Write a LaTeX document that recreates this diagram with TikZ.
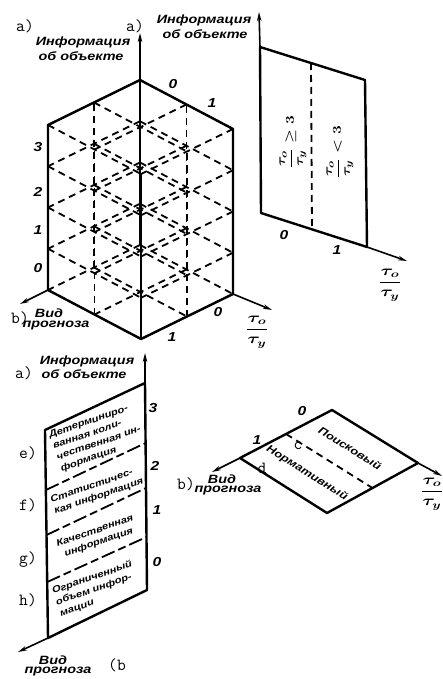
\documentclass[tikz,border=0pt]{standalone}
\usepackage{fontspec}
\newfontfamily\lab{Liberation Sans}[FakeStretch=1.2]
\usetikzlibrary{arrows.meta}
\tikzset{
  solidln/.style={line width=2.4pt, line cap=round, line join=round},
  dashln/.style={line width=1.8pt, dash pattern=on 7pt off 5pt},
  sepln/.style={line width=1.8pt, dash pattern=on 14pt off 4pt on 8pt off 4pt},
  axisln/.style={line width=1.6pt, -{Stealth[length=9pt,width=4.5pt]}},
  lbl/.style={font=\lab\bfseries\itshape\fontsize{12}{13}\selectfont, inner sep=0pt, align=center},
  rlbl/.style={font=\lab\bfseries\itshape\fontsize{10.5}{12}\selectfont, inner sep=0pt},
  num/.style={font=\lab\bfseries\itshape\fontsize{13}{13}\selectfont, inner sep=0pt},
  ocr/.style={font=\ttfamily\fontsize{17}{17}\selectfont, inner sep=0pt},
  reg/.style={font=\lab\bfseries\itshape\fontsize{9.3}{11.8}\selectfont, inner sep=0pt, rotate=19},
  fracl/.style={font=\fontsize{14}{16}\selectfont\boldmath, inner sep=0pt},
  cellfrac/.style={font=\fontsize{13}{15}\selectfont\boldmath, inner sep=0pt, rotate=90},
}
\newcommand{\tauratio}{\scalebox{1.35}[1]{$\displaystyle\frac{\tau_o}{\tau_y}$}}
\begin{document}
\begin{tikzpicture}[x=1pt,y=-1pt]
\useasboundingbox (0,0) rectangle (443,679);

% ---------------- Figure A: 3D grid ----------------
\foreach \i in {0,1,2}{\foreach \j in {0,1,2}{\foreach \k in {0,...,4}{
  \coordinate (P\i\j\k) at ({140+46.5*\i-46*\j},{245+24.5*\i+22.5*\j-41.25*\k});
}}}
\foreach \k in {0,...,4}{\foreach \a in {0,1,2}{
  \draw[dashln] (P\a0\k) -- (P\a2\k);
  \draw[dashln] (P0\a\k) -- (P2\a\k);
}}
\foreach \i in {0,1,2}{\foreach \j in {0,1,2}{
  \draw[dashln] (P\i\j0) -- (P\i\j4);
}}
\draw[solidln] (P024) -- (P004) -- (P204);
\draw[solidln] (P024) -- (P020) -- (P220) -- (P200) -- (P204);
\draw[solidln] (P220) -- (P224);
\draw[solidln] (P000) -- (P004);
\coordinate (Atop) at (140,33);
\coordinate (AvL) at (20,304);
\coordinate (AtR) at (272,310);
\draw[axisln] (P004) -- (Atop);
\draw[axisln] (P020) -- (AvL);
\draw[axisln] (P200) -- (AtR);

\node[ocr] (a1) at (25,26) {a)};
\node[ocr] (a2) at (135,26) {a)};
\node[lbl] (infA) at (83,42) {Информация};
\node[lbl] (objA) at (81,56) {об объекте};
\node[num] (A3) at (38,147) {3};
\node[num] (A2) at (38,192) {2};
\node[num] (A1) at (38,230) {1};
\node[num] (A0) at (38,268) {0};
\node[num] (At0) at (173,84) {0};
\node[num] (At1) at (212,103) {1};
\node[num] (Ab1) at (172,337) {1};
\node[num] (Ab0) at (218,312) {0};
\node[ocr] (bA) at (20,318) {b)};
\node[lbl] (vidA) at (49,313) {Вид};
\node[lbl] (progA) at (56,326) {прогноза};
\node[fracl] (tauA) at (257,332) {\tauratio};

% ---------------- Figure B: vertical plane ----------------
\coordinate (B1) at (260,47);
\coordinate (B2) at (365,80);
\coordinate (B3) at (367,247);
\coordinate (B4) at (261,213);
\coordinate (Btop) at (259,12);
\coordinate (Bend) at (407,261);
\coordinate (Bm1) at (311,63);
\coordinate (Bm2) at (312,229);
\draw[solidln] (B4) -- (B1) -- (B2) -- (B3) -- cycle;
\draw[dashln] (Bm1) -- (Bm2);
\draw[axisln] (B1) -- (Btop);
\draw[axisln] (B3) -- (Bend);
\node[lbl] (infB) at (204,20) {Информация};
\node[lbl] (objB) at (205,34) {об объекте};
\node[num] (B0l) at (284,235) {0};
\node[num] (B1l) at (337,250) {1};
\node[fracl] (tauB) at (390,285) {\tauratio};
\node[cellfrac] (geq) at (293,142)
  {\scalebox{1.3}[1]{$\displaystyle\frac{\tau_o}{\tau_y}\geq 3$}};
\node[cellfrac] (lt) at (340,152)
  {\scalebox{1.3}[1]{$\displaystyle\frac{\tau_o}{\tau_y}< 3$}};

% ---------------- Figure C: information levels ----------------
\coordinate (C1) at (45,430);
\coordinate (C2) at (145,383);
\coordinate (C3) at (147,590);
\coordinate (C4) at (48,638);
\coordinate (Ctop) at (145,353);
\coordinate (Cend) at (18,652);
\coordinate (L1a) at (45.9,490); \coordinate (L1b) at (145.6,443);
\coordinate (L2a) at (46.5,535); \coordinate (L2b) at (146,488);
\coordinate (L3a) at (47.2,582); \coordinate (L3b) at (146.5,537);
\draw[solidln] (C2) -- (C1) -- (C4) -- (C3) -- cycle;
\draw[sepln] (L1a) -- (L1b);
\draw[sepln] (L2a) -- (L2b);
\draw[sepln] (L3a) -- (L3b);
\draw[axisln] (C2) -- (Ctop);
\draw[axisln] (C4) -- (Cend);
\node[ocr] (aC) at (24,373) {a)};
\node[lbl] (infC) at (87,361) {Информация};
\node[lbl] (objC) at (84,374) {об объекте};
\node[num] (C3l) at (153,408) {3};
\node[num] (C2l) at (155,466) {2};
\node[num] (C1l) at (157,510) {1};
\node[num] (C0l) at (157,562) {0};
\node[ocr] (eC) at (28,453) {e)};
\node[ocr] (fC) at (28,505) {f)};
\node[ocr] (gC) at (28,560) {g)};
\node[ocr] (hC) at (28,600) {h)};
\node[reg, align=left] (te) at (97,438) {Детерминиро-\\ванная коли-\\чественная ин-\\формация};
\node[reg, align=left] (tf) at (97,491) {Статистичес-\\кая информация};
\node[reg, align=center] (tg) at (97,537) {Качественная\\информация};
\node[reg, align=left] (th) at (96,589) {Ограниченный\\объем инфор-\\мации};
\node[lbl] (vidC) at (53,660) {Вид};
\node[lbl] (progC) at (58,672) {прогноза};
\node[ocr] (bC) at (117,665) {(b};

% ---------------- Figure D: horizontal plane ----------------
\coordinate (DL) at (240,458);
\coordinate (DT) at (332,410);
\coordinate (DR) at (418,463);
\coordinate (DB) at (327,513);
\coordinate (Dm1) at (286,434);
\coordinate (Dm2) at (372.5,488);
\coordinate (DvL) at (212,472);
\coordinate (DtR) at (442,476);
\draw[solidln] (DL) -- (DT) -- (DR) -- (DB) -- cycle;
\draw[dashln] (Dm1) -- (Dm2);
\draw[axisln] (DL) -- (DvL);
\draw[axisln] (DR) -- (DtR);
\node[num] (D0) at (302,411) {0};
\node[num] (D1) at (257,440) {1};
\node[ocr] (cD) at (298,446) {c};
\node[ocr] (dD) at (262,468) {d};
\node[rlbl, rotate=-32] (poisk) at (350,448) {Поисковый};
\node[rlbl, rotate=-32] (norm) at (307,473) {Нормативный};
\node[ocr] (bD) at (186,484) {b)};
\node[lbl] (vidD) at (222,479) {Вид};
\node[lbl] (progD) at (228,491) {прогноза};
\node[fracl] (tauD) at (432,494) {\tauratio};
\end{tikzpicture}
\end{document}
